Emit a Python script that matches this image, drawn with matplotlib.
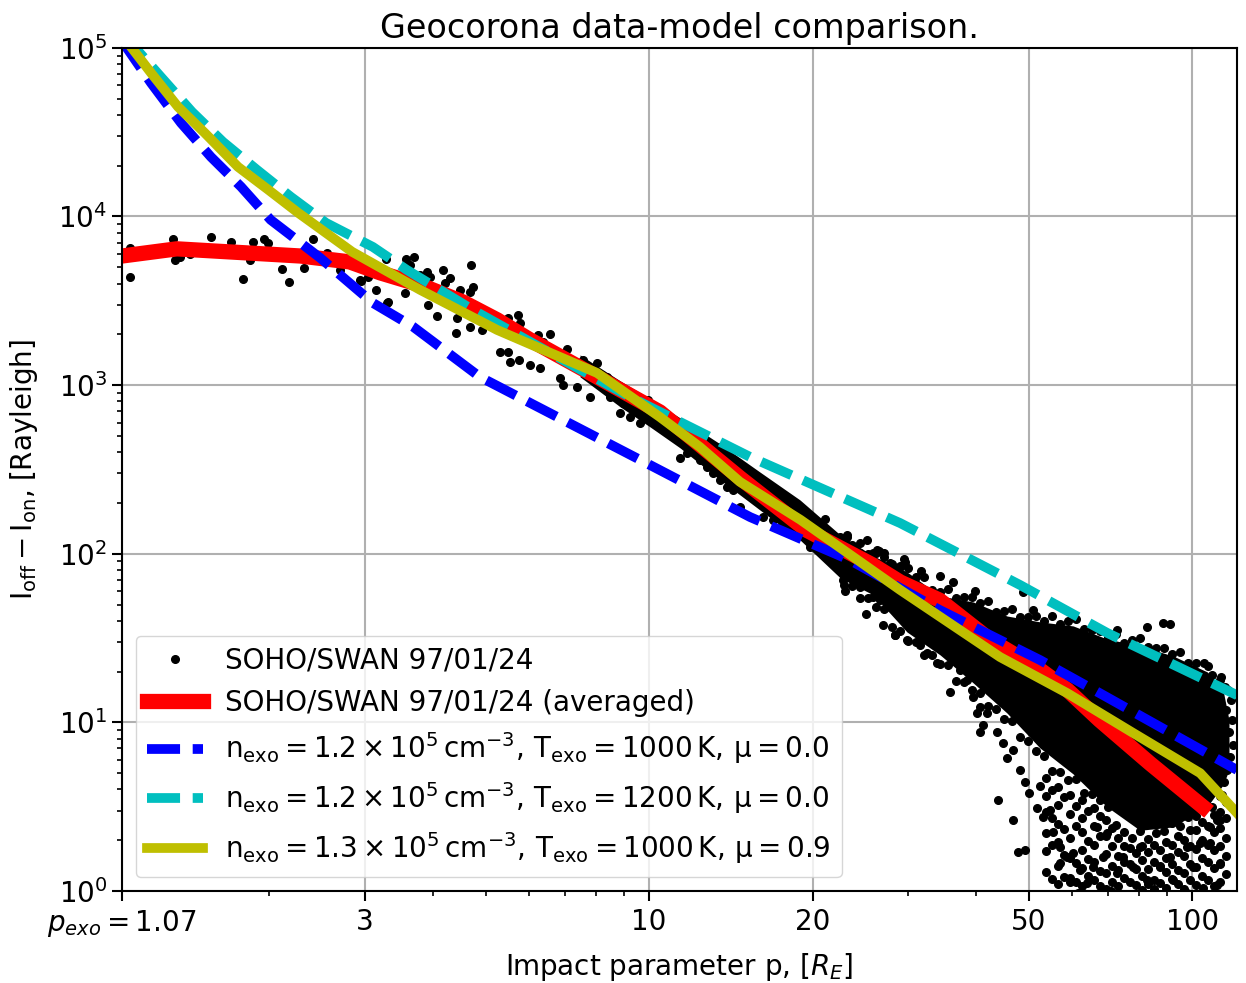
import numpy as np
import matplotlib.pyplot as plt

# --- averaged SOHO/SWAN profile and model curves (p in R_E, I in Rayleigh)
avg_p = [1.07, 1.35, 2.28, 2.81, 3.20, 3.79, 4.54, 5.25, 6.04, 8.02, 10.47,
         14.7, 19.5, 25.8, 29.0, 34.3, 42.5, 52.5, 58.9, 67.6, 83.7, 104.8]
avg_I = [5830, 6430, 5830, 5380, 4630, 3930, 3115, 2440, 1855, 1119, 693,
         282, 138, 85.9, 68, 53, 30.8, 20.5, 15.6, 10.3, 5.7, 3.15]

m1_p = [1.07, 1.21, 1.374, 1.56, 1.773, 2.01, 2.48, 3.10, 3.68, 4.88, 6.94,
        10.04, 15.35, 23.4, 34.3, 52.5, 67.6, 121]
m1_I = [1.1e5, 62000, 35900, 22570, 15000, 9550, 5680, 3073, 2215, 1119, 622,
        336, 165, 91.9, 46.4, 23.4, 14.9, 5.22]

m2_p = [1.07, 1.262, 1.44, 1.642, 1.897, 2.19, 2.542, 3.10, 3.58, 4.74, 6.57,
        9.22, 15.35, 29.0, 48.2, 69.8, 121]
m2_I = [1.23e5, 67300, 41730, 27700, 18900, 13070, 9160, 6600, 4824, 2790,
        1553, 851, 375, 152, 65.3, 33.9, 14.5]

m3_p = [1.07, 1.21, 1.357, 1.52, 1.75, 1.99, 2.26, 2.84, 3.79, 5.25, 8.02,
        10.47, 12.4, 14.7, 19.0, 29.0, 44.3, 58.9, 77.9, 103.5, 121]
m3_I = [1.19e5, 71100, 44700, 31300, 19700, 14400, 10500, 6170, 3670, 2125,
        1181, 647, 430, 267, 159, 61, 24.4, 14.9, 8.65, 5.0, 2.9]

# --- raw SOHO/SWAN points as (log10 p, log10 I)
swan_inner = [
    (0.044, 3.814), (0.044, 3.642), (0.123, 3.867), (0.127, 3.743),
    (0.136, 3.761), (0.155, 3.778), (0.193, 3.879), (0.230, 3.849),
    (0.252, 3.630), (0.265, 3.743), (0.271, 3.849), (0.291, 3.867),
    (0.298, 3.843), (0.324, 3.689), (0.337, 3.612), (0.365, 3.695),
    (0.381, 3.867), (0.407, 3.784), (0.431, 3.683), (0.468, 3.624),
    (0.469, 3.618), (0.483, 3.642), (0.497, 3.565), (0.517, 3.488),
    (0.516, 3.749), (0.519, 3.494), (0.551, 3.547), (0.552, 3.749),
    (0.560, 3.713), (0.567, 3.761), (0.578, 3.654), (0.591, 3.672),
    (0.597, 3.642), (0.593, 3.476), (0.610, 3.411), (0.621, 3.683),
    (0.625, 3.606), (0.634, 3.636), (0.645, 3.310), (0.646, 3.399),
    (0.652, 3.565), (0.670, 3.553), (0.670, 3.345), (0.672, 3.713),
    (0.676, 3.583), (0.692, 3.327), (0.726, 3.197), (0.740, 3.399),
    (0.740, 3.197), (0.744, 3.138), (0.749, 3.345), (0.758, 3.417),
    (0.761, 3.150), (0.762, 3.369), (0.781, 3.120), (0.796, 3.298),
    (0.799, 3.102), (0.805, 3.256), (0.818, 3.304), (0.836, 3.043),
    (0.842, 3.001), (0.849, 3.215), (0.867, 2.989), (0.878, 3.150),
    (0.891, 3.090), (0.891, 2.930), (0.904, 3.132), (0.923, 3.049),
    (0.928, 2.930), (0.941, 2.989), (0.947, 2.835), (0.952, 2.894),
    (0.965, 2.811), (0.983, 2.776), (0.998, 2.912), (1.002, 2.894),
    (1.009, 2.871), (1.015, 2.853), (1.028, 2.794),
]

swan_band = [
    (1.057, 2.734), (1.070, 2.693), (1.057, 2.568), (1.070, 2.598),
    (1.094, 2.657), (1.094, 2.556), (1.107, 2.616), (1.112, 2.556),
    (1.125, 2.515), (1.107, 2.515), (1.118, 2.479), (1.131, 2.633),
    (1.131, 2.438), (1.144, 2.556), (1.144, 2.396), (1.155, 2.479),
    (1.155, 2.378), (1.162, 2.438), (1.173, 2.515), (1.168, 2.278),
    (1.204, 2.420), (1.199, 2.396), (1.210, 2.218), (1.217, 2.361),
    (1.228, 2.319), (1.228, 2.200), (1.235, 2.361), (1.241, 2.337),
    (1.241, 2.159), (1.254, 2.278), (1.265, 2.260), (1.278, 2.242),
    (1.285, 2.200), (1.296, 2.040), (1.291, 2.100), (1.315, 2.141),
    (1.324, 2.206), (1.328, 2.123), (1.328, 1.981), (1.339, 2.082),
    (1.339, 1.981), (1.352, 2.100), (1.357, 1.845), (1.365, 2.100),
    (1.376, 2.040), (1.376, 1.845), (1.389, 2.005), (1.389, 1.803),
    (1.402, 2.082), (1.402, 1.981), (1.413, 2.005), (1.413, 1.744),
    (1.420, 2.022), (1.426, 1.726), (1.433, 1.981), (1.444, 1.945),
    (1.444, 1.684), (1.462, 1.922), (1.462, 1.667), (1.453, 1.518),
    (1.471, 1.951), (1.360, 1.780), (1.400, 1.640), (1.430, 1.580),
]

# upper rim of the dense cloud, isolated points above it and the right edge
swan_top = [
    (1.359, 2.090), (1.374, 2.052), (1.389, 2.061), (1.403, 1.999),
    (1.418, 2.002), (1.433, 2.004), (1.448, 1.940), (1.462, 1.929),
    (1.477, 1.918), (1.492, 1.865), (1.506, 1.860), (1.521, 1.784),
    (1.536, 1.773), (1.551, 1.788), (1.565, 1.738), (1.580, 1.741),
    (1.595, 1.745), (1.610, 1.708), (1.624, 1.718), (1.639, 1.657),
    (1.654, 1.661), (1.669, 1.673), (1.683, 1.623), (1.698, 1.626),
    (1.713, 1.629), (1.727, 1.604), (1.742, 1.628), (1.757, 1.581),
    (1.772, 1.599), (1.786, 1.613), (1.801, 1.553), (1.816, 1.546),
    (1.831, 1.540), (1.845, 1.505), (1.860, 1.525), (1.875, 1.473),
    (1.890, 1.487), (1.904, 1.501), (1.919, 1.445), (1.934, 1.443),
    (1.948, 1.440), (1.963, 1.408), (1.978, 1.415), (1.993, 1.351),
    (2.007, 1.352), (2.022, 1.353), (2.037, 1.282), (2.052, 1.252),
    (1.365, 2.112), (1.424, 2.017), (1.560, 1.833), (1.689, 1.773),
    (1.707, 1.667), (1.862, 1.548), (1.917, 1.566), (1.947, 1.590),
    (1.960, 1.584), (2.029, 1.335), (2.053, 1.269), (2.061, 1.210),
    (1.470, 1.970), (1.500, 1.900), (1.535, 1.870), (1.600, 1.780),
    (2.066, 1.192), (2.072, 1.133), (2.063, 1.074), (2.074, 1.014),
    (2.068, 0.943), (2.076, 0.866), (2.070, 0.795), (2.064, 0.718),
    (2.059, 0.647), (2.055, 0.569), (2.046, 0.421), (2.033, 0.285),
    (2.052, 0.166), (2.046, 0.036),
]

# lower rim of the dense cloud and the sparse points below it
swan_rim = [
    (1.359, 1.813), (1.374, 1.807), (1.389, 1.737), (1.403, 1.738),
    (1.418, 1.687), (1.433, 1.671), (1.448, 1.566), (1.462, 1.544),
    (1.477, 1.485), (1.492, 1.475), (1.506, 1.401), (1.521, 1.397),
    (1.536, 1.346), (1.551, 1.342), (1.565, 1.248), (1.580, 1.238),
    (1.595, 1.192), (1.610, 1.176), (1.624, 1.096), (1.639, 1.082),
    (1.654, 1.020), (1.669, 1.011), (1.683, 0.913), (1.698, 0.889),
    (1.713, 0.829), (1.727, 0.800), (1.742, 0.710), (1.757, 0.708),
    (1.772, 0.659), (1.786, 0.663), (1.801, 0.579), (1.816, 0.577),
    (1.831, 0.540), (1.845, 0.496), (1.860, 0.389), (1.875, 0.351),
    (1.890, 0.313), (1.904, 0.356), (1.919, 0.310), (1.934, 0.346),
    (1.948, 0.355), (1.963, 0.402), (1.978, 0.384), (1.993, 0.437),
    (2.007, 0.444), (2.022, 0.515), (2.037, 0.496), (2.052, 0.561),
]

swan_low = [
    (1.453, 1.518), (1.475, 1.489), (1.499, 1.459), (1.512, 1.412),
    (1.530, 1.352), (1.554, 1.180), (1.573, 1.311), (1.586, 1.252),
    (1.597, 1.151), (1.610, 1.091), (1.622, 1.056), (1.604, 1.056),
    (1.615, 0.985), (1.610, 0.943), (1.641, 0.943), (1.652, 0.878),
    (1.659, 0.789), (1.670, 0.836), (1.683, 0.718), (1.692, 0.647),
    (1.643, 0.540), (1.670, 0.421), (1.680, 0.231), (1.692, 0.243),
    (1.715, 0.492), (1.726, 0.439), (1.739, 0.480), (1.744, 0.350),
    (1.757, 0.261), (1.770, 0.202), (1.757, 0.166), (1.781, 0.225),
    (1.775, 0.053), (1.794, 0.125), (1.807, 0.048), (1.818, 0.142),
    (1.825, 0.380), (1.843, 0.344), (1.836, 0.202), (1.862, 0.107),
    (1.873, 0.202), (1.891, 0.142), (1.904, 0.261), (1.917, 0.065),
    (1.941, 0.142), (1.960, 0.202), (1.965, 0.065), (1.991, 0.261),
    (2.002, 0.142), (2.015, 0.285), (2.033, 0.380), (2.052, 0.421),
    (1.790, -0.010), (1.850, 0.000), (1.880, -0.020), (1.930, 0.010),
    (1.990, -0.010), (2.020, 0.020), (1.700, 0.580), (1.720, 0.620),
    (1.731, 0.670), (1.731, 0.564), (1.731, 0.469), (1.731, 0.344),
    (1.731, 0.237), (1.731, 0.113), (1.753, 0.617), (1.753, 0.510),
    (1.753, 0.397), (1.753, 0.291), (1.753, 0.148), (1.753, 0.042),
    (1.775, 0.569), (1.775, 0.457), (1.775, 0.314), (1.775, 0.196),
    (1.775, 0.077), (1.797, 0.540), (1.797, 0.433), (1.797, 0.350),
    (1.797, 0.243), (1.797, 0.136), (1.797, 0.030), (1.819, 0.492),
    (1.819, 0.386), (1.819, 0.273), (1.819, 0.172), (1.819, 0.065),
    (1.842, 0.421), (1.842, 0.326), (1.842, 0.220), (1.842, 0.107),
    (1.842, 0.012), (1.864, 0.314), (1.864, 0.208), (1.864, 0.125),
    (1.864, 0.030), (1.886, 0.255), (1.886, 0.160), (1.886, 0.053),
    (1.908, 0.267), (1.908, 0.184), (1.908, 0.089), (1.908, 0.006),
    (1.930, 0.273), (1.930, 0.172), (1.930, 0.065), (1.952, 0.291),
    (1.952, 0.196), (1.952, 0.113), (1.952, 0.018), (1.974, 0.326),
    (1.974, 0.231), (1.974, 0.125), (1.974, 0.042), (1.996, 0.362),
    (1.996, 0.267), (1.996, 0.160), (1.996, 0.065), (2.018, 0.409),
    (2.018, 0.303), (2.018, 0.196), (2.018, 0.089), (2.040, 0.451),
    (2.040, 0.350), (2.040, 0.243), (2.040, 0.136), (2.040, 0.030),
    (2.063, 0.528), (2.063, 0.433), (2.063, 0.314), (2.063, 0.208),
    (2.063, 0.101),
]

swan_floor = [
    (1.742, 0.599), (1.742, 0.433), (1.742, 0.273), (1.742, 0.071),
    (1.764, 0.558), (1.764, 0.368), (1.764, 0.214), (1.764, 0.083),
    (1.786, 0.504), (1.786, 0.386), (1.786, 0.166), (1.786, 0.053),
    (1.808, 0.474), (1.808, 0.297), (1.808, 0.190), (1.808, 0.089),
    (1.831, 0.445), (1.831, 0.326), (1.831, 0.119), (1.831, 0.030),
    (1.853, 0.374), (1.853, 0.267), (1.853, 0.148), (1.853, 0.053),
    (1.875, 0.267), (1.875, 0.172), (1.875, 0.077), (1.897, 0.225),
    (1.897, 0.130), (1.897, 0.036), (1.919, 0.231), (1.919, 0.130),
    (1.919, 0.042), (1.941, 0.243), (1.941, 0.148), (1.941, 0.047),
    (1.963, 0.273), (1.963, 0.160), (1.963, 0.071), (1.985, 0.302),
    (1.985, 0.208), (1.985, 0.107), (1.985, 0.012), (2.007, 0.362),
    (2.007, 0.249), (2.007, 0.142), (2.007, 0.036), (2.029, 0.386),
    (2.029, 0.273), (2.029, 0.172), (2.029, 0.065), (2.052, 0.469),
    (2.052, 0.374), (2.052, 0.267), (2.052, 0.160), (2.052, 0.053),
]

# solid core of the point cloud: log10 p with lower / upper log10 I
core_logp = [0.873, 0.947, 1.002, 1.057, 1.131, 1.204, 1.278, 1.352, 1.413,
             1.475, 1.536, 1.597, 1.659, 1.720, 1.781, 1.843, 1.904, 1.965,
             2.028, 2.057, 2.068]
core_lo = [3.049, 2.871, 2.752, 2.628, 2.438, 2.260, 2.082, 1.857, 1.756,
           1.536, 1.400, 1.234, 1.056, 0.848, 0.694, 0.500, 0.360, 0.380,
           0.500, 0.629, 0.718]
core_hi = [3.179, 3.025, 2.918, 2.806, 2.651, 2.485, 2.319, 2.112, 1.987,
           1.892, 1.750, 1.714, 1.631, 1.596, 1.572, 1.495, 1.453, 1.394,
           1.299, 1.192, 1.014]

legend_labels = [
    'SOHO/SWAN 97/01/24',
    'SOHO/SWAN 97/01/24 (averaged)',
    r'$\mathrm{n_{exo} = 1.2 \times 10^5\,cm^{-3},\,T_{exo} = 1000\,K,\,\mu = 0.0}$',
    r'$\mathrm{n_{exo} = 1.2 \times 10^5\,cm^{-3},\,T_{exo} = 1200\,K,\,\mu = 0.0}$',
    r'$\mathrm{n_{exo} = 1.3 \times 10^5\,cm^{-3},\,T_{exo} = 1000\,K,\,\mu = 0.9}$',
]

x_ticks = [1.07, 3, 10, 20, 50, 100]
x_ticklabels = [r'$p_{exo} = 1.07$', '3', '10', '20', '50', '100']

fig = plt.figure(figsize=(12.46, 9.83), dpi=100)
ax = fig.add_axes([0.0979, 0.0936, 0.8949, 0.8577])

pts = np.array(swan_inner + swan_band + swan_top + swan_rim + swan_low
               + swan_floor)
ax.fill_between(np.power(10.0, core_logp), np.power(10.0, core_lo),
                np.power(10.0, core_hi), color='k', lw=0, zorder=1.5)
ax.plot(np.power(10.0, pts[:, 0]), np.power(10.0, pts[:, 1]), 'k.', ms=11,
        label=legend_labels[0])

dash = (3.4, 1.3)
ax.plot(avg_p, avg_I, 'r-', lw=11, label=legend_labels[1])
ax.plot(m1_p, m1_I, 'b--', lw=7, dashes=dash, label=legend_labels[2])
ax.plot(m2_p, m2_I, 'c--', lw=7, dashes=dash, label=legend_labels[3])
ax.plot(m3_p, m3_I, 'y-', lw=7, label=legend_labels[4])

ax.set_xscale('log')
ax.set_yscale('log')
ax.set_xlim(1.07, 121)
ax.set_ylim(1, 1e5)
ax.set_xticks(x_ticks)
ax.set_xticklabels(x_ticklabels)

ax.grid(True, which='major', color='#b0b0b0', lw=1.5)
ax.set_axisbelow(True)
for s in ax.spines.values():
    s.set_linewidth(1.5)
ax.tick_params(which='major', labelsize=20, length=7, width=1.5)
ax.tick_params(which='minor', length=3.5, width=1.2)
ax.tick_params(axis='x', which='major', pad=5)

ax.set_title('Geocorona data-model comparison.', fontsize=24, pad=7)
ax.set_xlabel('Impact parameter p, [$R_E$]', fontsize=20, labelpad=9)
ax.set_ylabel(r'$\mathrm{I_{off} - I_{on}}$, [Rayleigh]', fontsize=20,
              labelpad=13)
ax.legend(loc='lower left', fontsize=20)

fig.savefig('out.png', dpi=100)
